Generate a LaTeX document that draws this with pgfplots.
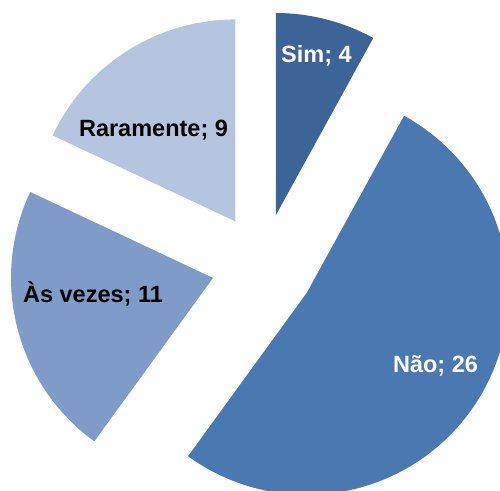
\documentclass[border=0pt]{standalone}
\usepackage{pgfplots}
\usepackage{pgfplotstable}
\usepackage{fontspec}
\setmainfont{Liberation Sans}
\pgfplotsset{compat=1.18}

\definecolor{pie0}{RGB}{61,100,151}
\definecolor{pie1}{RGB}{74,120,176}
\definecolor{pie2}{RGB}{126,156,199}
\definecolor{pie3}{RGB}{182,197,223}

% answers, clockwise from 12 o'clock; lx/ly = label baseline (axis units)
\pgfplotstableread[col sep=comma]{
name,value,lx,ly,fg
Sim,4,316.5,427,white
Não,26,435.5,118,white
Às vezes,11,93,187,black
Raramente,9,153.5,353,black
}\piedata

\def\Ox{263.1}   % pie centre
\def\Oy{224.9}
\def\rad{202}    % radius
\def\explode{51.7}

\begin{document}
\begin{tikzpicture}
\pgfplotstablegetrowsof{\piedata}
\pgfmathtruncatemacro\nrows{\pgfplotsretval-1}
\def\total{0}
\pgfplotsforeachungrouped \i in {0,...,\nrows}{%
  \pgfplotstablegetelem{\i}{value}\of\piedata
  \pgfmathsetmacro\total{\total+\pgfplotsretval}%
}
\def\cum{0}
\pgfplotsforeachungrouped \i in {0,...,\nrows}{%
  \pgfplotstablegetelem{\i}{value}\of\piedata \let\val\pgfplotsretval
  \pgfmathsetmacro\aS{90-360*(\cum/\total)}%
  \pgfmathsetmacro\cum{\cum+\val}%
  \pgfmathsetmacro\aE{90-360*(\cum/\total)}%
  \pgfmathsetmacro\aM{(\aS+\aE)/2}%
  \pgfmathsetmacro\cx{\Ox+\explode*cos(\aM)}%
  \pgfmathsetmacro\cy{\Oy+\explode*sin(\aM)}%
  \expandafter\xdef\csname as\i\endcsname{\aS}%
  \expandafter\xdef\csname ae\i\endcsname{\aE}%
  \expandafter\xdef\csname cx\i\endcsname{\cx}%
  \expandafter\xdef\csname cy\i\endcsname{\cy}%
  \expandafter\xdef\csname vl\i\endcsname{\val}%
  \pgfplotstablegetelem{\i}{name}\of\piedata
  \expandafter\xdef\csname nm\i\endcsname{\pgfplotsretval}%
  \pgfplotstablegetelem{\i}{lx}\of\piedata
  \expandafter\xdef\csname lx\i\endcsname{\pgfplotsretval}%
  \pgfplotstablegetelem{\i}{ly}\of\piedata
  \expandafter\xdef\csname ly\i\endcsname{\pgfplotsretval}%
  \pgfplotstablegetelem{\i}{fg}\of\piedata
  \expandafter\xdef\csname fg\i\endcsname{\pgfplotsretval}%
}
\begin{axis}[
    hide axis,
    scale only axis,
    width=500pt, height=490pt,
    xmin=0, xmax=500, ymin=0, ymax=490,
    clip=true,
  ]
  \pgfplotsinvokeforeach{0,...,3}{
    \fill[pie#1] (axis cs:\csname cx#1\endcsname,\csname cy#1\endcsname)
      -- ++(\csname as#1\endcsname:\rad pt)
      arc[start angle=\csname as#1\endcsname, end angle=\csname ae#1\endcsname, radius=\rad pt]
      -- cycle;
  }
  \pgfplotsinvokeforeach{0,...,3}{
    \node[anchor=base, text=\csname fg#1\endcsname, inner sep=0pt,
          font=\fontsize{23.5}{28}\selectfont\bfseries]
      at (axis cs:\csname lx#1\endcsname,\csname ly#1\endcsname)
      {\csname nm#1\endcsname; \csname vl#1\endcsname};
  }
\end{axis}
\pgfresetboundingbox
\path[use as bounding box] (current axis.south west) rectangle (current axis.north east);
\end{tikzpicture}
\end{document}
